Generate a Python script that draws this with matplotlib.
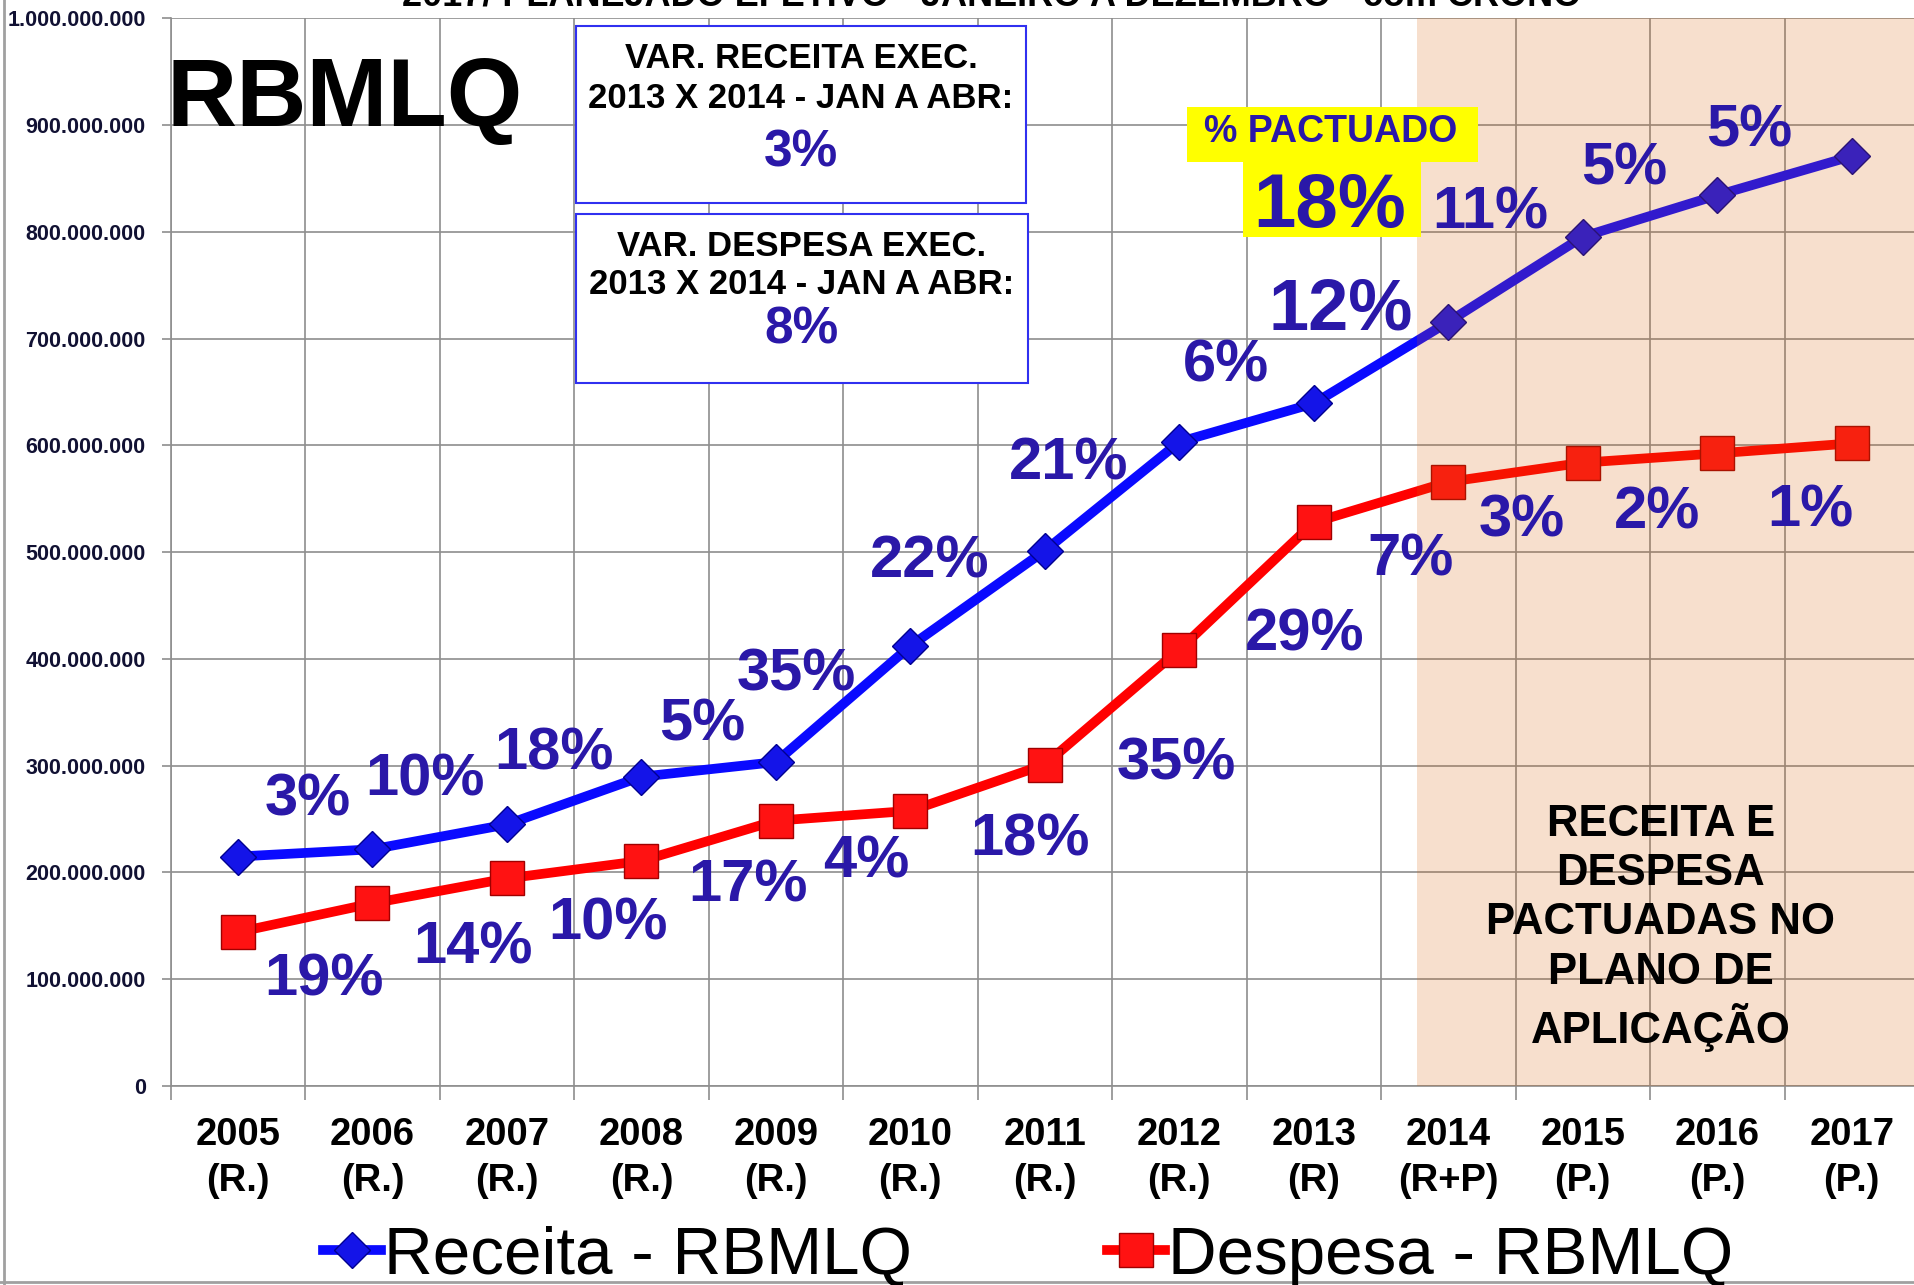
import numpy as np
import matplotlib
matplotlib.use("Agg")
import matplotlib.pyplot as plt
from matplotlib import font_manager
from matplotlib.patches import Rectangle
from matplotlib.lines import Line2D
from matplotlib.ticker import FuncFormatter

# --- data (values in R$) ---
years = ["2005\n(R.)", "2006\n(R.)", "2007\n(R.)", "2008\n(R.)", "2009\n(R.)", "2010\n(R.)",
         "2011\n(R.)", "2012\n(R.)", "2013\n(R)", "2014\n(R+P)", "2015\n(P.)", "2016\n(P.)", "2017\n(P.)"]
receita = [214.9e6, 221.7e6, 245.0e6, 289.7e6, 303.4e6, 412.1e6, 501.4e6,
           603.2e6, 639.3e6, 715.6e6, 795.4e6, 834.3e6, 870.9e6]
despesa = [144.1e6, 171.1e6, 194.4e6, 210.8e6, 248.5e6, 257.7e6, 301.1e6,
           408.7e6, 527.8e6, 565.8e6, 583.8e6, 592.5e6, 601.9e6]

receita_pct = ["3%", "10%", "18%", "5%", "35%", "22%", "21%", "6%", "12%", "11%", "5%", "5%"]
despesa_pct = ["19%", "14%", "10%", "17%", "4%", "18%", "35%", "29%", "7%", "3%", "2%", "1%"]

# where the variation labels sit (category index, value)
receita_lbl_pos = [(0.52, 268e6), (1.39, 287e6), (2.35, 311e6), (3.45, 338e6), (4.15, 385e6),
                   (5.14, 491e6), (6.18, 583e6), (7.35, 674e6), (8.2, 726e6), (9.31, 818e6),
                   (10.31, 859e6), (11.24, 894e6)]
despesa_lbl_pos = [(0.64, 99e6), (1.75, 129e6), (2.75, 152e6), (3.79, 187e6), (4.67, 210e6),
                   (5.89, 230e6), (6.98, 302e6), (7.93, 422e6), (8.72, 493e6), (9.55, 529e6),
                   (10.55, 537e6), (11.69, 539e6)]
pactuado_start = 8.77  # shaded area (planned values) starts here

# --- fonts ---
names = {f.name for f in font_manager.fontManager.ttflist}
BASE = "Liberation Sans" if "Liberation Sans" in names else "DejaVu Sans"
NARROW = "Liberation Sans Narrow" if "Liberation Sans Narrow" in names else BASE
plt.rcParams["font.family"] = [BASE, "DejaVu Sans"]

LBL_COLOR = "#2A18A8"
GRID = "#8E8E8E"
W, H = 1915, 1285


def fx(px):
    return px / W


def fy(py):
    return 1 - py / H


fig = plt.figure(figsize=(W / 100, H / 100), dpi=100)
ax = fig.add_axes([fx(170.7), fy(1086), fx(1919) - fx(170.7), fy(18.3) - fy(1086)])

x = np.arange(len(years))
ax.plot(x, receita, color="#0A0AFF", lw=7, marker="D", ms=18, mfc="#1414E8",
        mec="#000090", mew=1, zorder=3, label="Receita - RBMLQ")
ax.plot(x, despesa, color="#FF0000", lw=7, marker="s", ms=24, mfc="#FF1212",
        mec="#A00000", mew=1, zorder=3, label="Despesa - RBMLQ")

# tinted overlay for the planned years
ax.axvspan(pactuado_start, 13, color="#D75F05", alpha=0.2, lw=0, zorder=4)

ax.set_xlim(-0.5, 12.5)
ax.set_ylim(0, 1e9)
ax.set_yticks(np.arange(0, 1e9 + 1, 1e8))
ax.yaxis.set_major_formatter(FuncFormatter(lambda v, p: f"{int(round(v)):,}".replace(",", ".")))
ax.set_xticks(np.arange(-0.5, 13, 1))
ax.set_xticklabels([])
ax.set_xticks(x, minor=True)
ax.set_xticklabels(years, minor=True)
ax.tick_params(axis="x", which="major", length=10, width=1.2, color=GRID, direction="out")
ax.tick_params(axis="x", which="minor", length=0, pad=22)
ax.tick_params(axis="y", length=6.5, width=1.2, color=GRID, pad=11.5)
for t in ax.get_xticklabels(minor=True):
    t.set_fontsize(27.5)
    t.set_fontweight("bold")
    t.set_linespacing(1.38)
for t in ax.get_yticklabels():
    t.set_fontsize(15.5)
    t.set_fontweight("bold")
    t.set_color("#111133")
ax.grid(True, which="major", color=GRID, lw=1.2, zorder=0)
ax.set_axisbelow(True)
for s in ["top", "right"]:
    ax.spines[s].set_visible(False)
for s in ["left", "bottom"]:
    ax.spines[s].set_color(GRID)
    ax.spines[s].set_linewidth(1.2)

# variation labels
for txt, (px, py) in zip(receita_pct, receita_lbl_pos):
    size = 52 if txt == "12%" and px > 8 else 43
    ax.text(px, py, txt, ha="center", va="center", fontsize=size, fontweight="bold",
            color=LBL_COLOR, family=[NARROW, "DejaVu Sans"], zorder=6)
for txt, (px, py) in zip(despesa_pct, despesa_lbl_pos):
    ax.text(px, py, txt, ha="center", va="center", fontsize=43, fontweight="bold",
            color=LBL_COLOR, family=[NARROW, "DejaVu Sans"], zorder=6)

# shaded area note
fig.text(fx(1661), fy(928), "RECEITA E\nDESPESA\nPACTUADAS NO\nPLANO DE\nAPLICAÇÃO",
         ha="center", va="center", fontsize=31.5, fontweight="bold", linespacing=1.26, zorder=7)

# big RBMLQ
fig.text(fx(345), fy(101), "RBMLQ", ha="center", va="center", fontsize=70, fontweight="bold")

# variation boxes
box_specs = [
    (576, 26, 450, 177, "VAR. RECEITA EXEC.", 59, 99, "3%", 153),
    (576, 214, 452, 169, "VAR. DESPESA EXEC.", 247, 285, "8%", 330),
]
for bx, by, bw, bh, head, y1, y2, pct, y3 in box_specs:
    fig.patches.append(Rectangle((fx(bx), fy(by + bh)), bw / W, bh / H, transform=fig.transFigure,
                                 facecolor="white", edgecolor="#3030F0", lw=1.5, zorder=8))
    cx = fx(bx + bw / 2)
    fig.text(cx, fy(y1), head, ha="center", va="center", fontsize=25, fontweight="bold", zorder=9)
    fig.text(cx, fy(y2), "2013 X 2014 - JAN A ABR:", ha="center", va="center", fontsize=25,
             fontweight="bold", zorder=9)
    fig.text(cx, fy(y3), pct, ha="center", va="center", fontsize=37, fontweight="bold",
             color=LBL_COLOR, family=[NARROW, "DejaVu Sans"], zorder=9)

# yellow "% PACTUADO" highlight
fig.patches.append(Rectangle((fx(1187), fy(162)), (1478 - 1187) / W, (162 - 107) / H,
                             transform=fig.transFigure, facecolor="#FFFF00", lw=0, zorder=8))
fig.patches.append(Rectangle((fx(1243), fy(237)), (1421 - 1243) / W, (237 - 160) / H,
                             transform=fig.transFigure, facecolor="#FFFF00", lw=0, zorder=8))
fig.text(fx(1331), fy(132), "% PACTUADO", ha="center", va="center", fontsize=27,
         fontweight="bold", color=LBL_COLOR, zorder=9)
fig.text(fx(1330), fy(208), "18%", ha="center", va="center", fontsize=55, fontweight="bold",
         color=LBL_COLOR, family=[NARROW, "DejaVu Sans"], zorder=9)

# title, mostly cut off at the top edge (as in the original picture)
fig.text(fx(992), fy(6), "2017/ PLANEJADO EFETIVO - JANEIRO A DEZEMBRO - com CRONO",
         ha="center", va="baseline", fontsize=26, fontweight="bold")

# legend
fig.legend(loc="center", bbox_to_anchor=(0.537, 0.022), ncol=2, frameon=False, fontsize=48.5,
           handlelength=0.85, handletextpad=0.05, columnspacing=2.9, markerscale=1.0)

# frame lines of the original picture
fig.add_artist(Line2D([fx(4), fx(4)], [0, 1], color="#A0A0A0", lw=2, transform=fig.transFigure))
fig.add_artist(Line2D([0, 1], [fy(1282), fy(1282)], color="#A0A0A0", lw=2, transform=fig.transFigure))

fig.savefig("out.png", dpi=100)
